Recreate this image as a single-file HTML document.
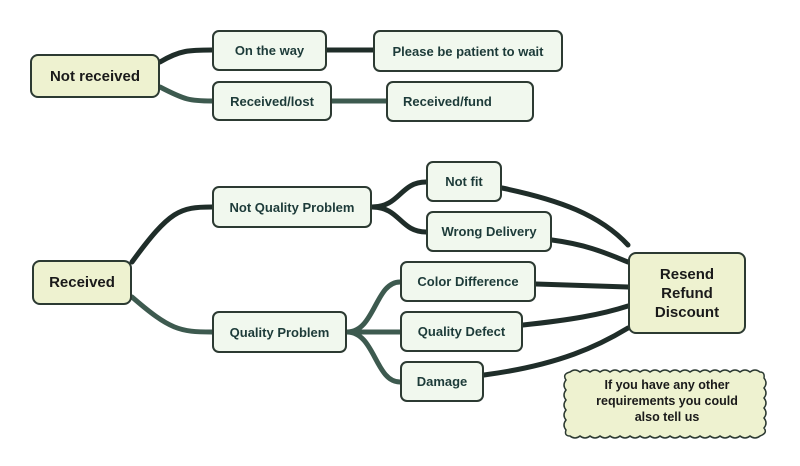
<!DOCTYPE html>
<html><head><meta charset="utf-8"><style>
body{margin:0;background:#fff;width:800px;height:466px;overflow:hidden;position:relative;font-family:"Liberation Sans",sans-serif}
.n{position:absolute;box-sizing:border-box;border:2px solid #2c3a32;border-radius:7px;background:#f1f8ee;color:#1d3b39;font-weight:bold;font-size:13px;display:flex;align-items:center;justify-content:center;text-align:center}
.r{background:#eef2d0;color:#1a1a1a;font-size:15px;border-radius:8px}
svg{position:absolute;left:0;top:0}
</style></head><body>
<svg width="800" height="466" fill="none" stroke-linecap="round">
<g stroke="#1f2d29" stroke-width="5">
<path d="M160 62 C180 50,190 50,212 50"/>
<path d="M327 50 L373 50"/>
<path d="M132 262 C170 210,180 207,212 207"/>
<path d="M372 207 C400 207,400 182,426 182"/>
<path d="M372 207 C400 207,400 232,426 232"/>
<path d="M502 188 C560 200,600 215,628 245"/>
<path d="M552 240 C590 245,610 255,628 262"/>
<path d="M536 284 L628 287"/>
<path d="M523 325 C570 320,600 315,628 306"/>
<path d="M484 375 C560 365,600 345,628 328"/>
</g>
<g stroke="#3d5a4f" stroke-width="5">
<path d="M160 87 C185 100,190 101,212 101"/>
<path d="M332 101 L386 101"/>
<path d="M132 297 C170 330,180 332,212 332"/>
<path d="M347 332 C375 332,375 282,400 282"/>
<path d="M347 332 L400 332"/>
<path d="M347 332 C375 332,375 382,400 382"/>
</g>
<path d="M570 372 q5-4 10 0 q5-4 10 0 q5-4 10 0 q5-4 10 0 q5-4 10 0 q5-4 10 0 q5-4 10 0 q5-4 10 0 q5-4 10 0 q5-4 10 0 q5-4 10 0 q5-4 10 0 q5-4 10 0 q5-4 10 0 q5-4 10 0 q5-4 10 0 q5-4 10 0 q5-4 10 0 q5-4 10 0 q5 0 4 6 q4 5 0 10 q4 5 0 10 q4 5 0 10 q4 5 0 10 q4 5 0 10 q4 5 -4 8 q-5 4 -10 0 q-5 4 -10 0 q-5 4 -10 0 q-5 4 -10 0 q-5 4 -10 0 q-5 4 -10 0 q-5 4 -10 0 q-5 4 -10 0 q-5 4 -10 0 q-5 4 -10 0 q-5 4 -10 0 q-5 4 -10 0 q-5 4 -10 0 q-5 4 -10 0 q-5 4 -10 0 q-5 4 -10 0 q-5 4 -10 0 q-5 4 -10 0 q-5 4 -10 0 q-6 0 -4 -6 q-4 -5 0 -10 q-4 -5 0 -10 q-4 -5 0 -10 q-4 -5 0 -10 q-4 -5 0 -10 q-4 -6 4 -8z" fill="#eef2d0" stroke="#2c3a32" stroke-width="1.5"/>
<text x="667" y="389" text-anchor="middle" font-family="Liberation Sans" font-weight="bold" font-size="12.5" fill="#1a1a1a">If you have any other</text>
<text x="667" y="405" text-anchor="middle" font-family="Liberation Sans" font-weight="bold" font-size="12.5" fill="#1a1a1a">requirements you could</text>
<text x="667" y="421" text-anchor="middle" font-family="Liberation Sans" font-weight="bold" font-size="12.5" fill="#1a1a1a">also tell us</text>
</svg>
<div class="n r" style="left:30px;top:54px;width:130px;height:44px">Not received</div>
<div class="n" style="left:212px;top:30px;width:115px;height:41px">On the way</div>
<div class="n" style="left:373px;top:30px;width:190px;height:42px">Please be patient to wait</div>
<div class="n" style="left:212px;top:81px;width:120px;height:40px">Received/lost</div>
<div class="n" style="left:386px;top:81px;width:148px;height:41px;justify-content:flex-start;padding-left:15px">Received/fund</div>
<div class="n r" style="left:32px;top:260px;width:100px;height:45px">Received</div>
<div class="n" style="left:212px;top:186px;width:160px;height:42px">Not Quality Problem</div>
<div class="n" style="left:212px;top:311px;width:135px;height:42px">Quality Problem</div>
<div class="n" style="left:426px;top:161px;width:76px;height:41px">Not fit</div>
<div class="n" style="left:426px;top:211px;width:126px;height:41px">Wrong Delivery</div>
<div class="n" style="left:400px;top:261px;width:136px;height:41px">Color Difference</div>
<div class="n" style="left:400px;top:311px;width:123px;height:41px">Quality Defect</div>
<div class="n" style="left:400px;top:361px;width:84px;height:41px">Damage</div>
<div class="n r" style="left:628px;top:252px;width:118px;height:82px;font-size:15px;line-height:19px">Resend<br>Refund<br>Discount</div>
</body></html>
